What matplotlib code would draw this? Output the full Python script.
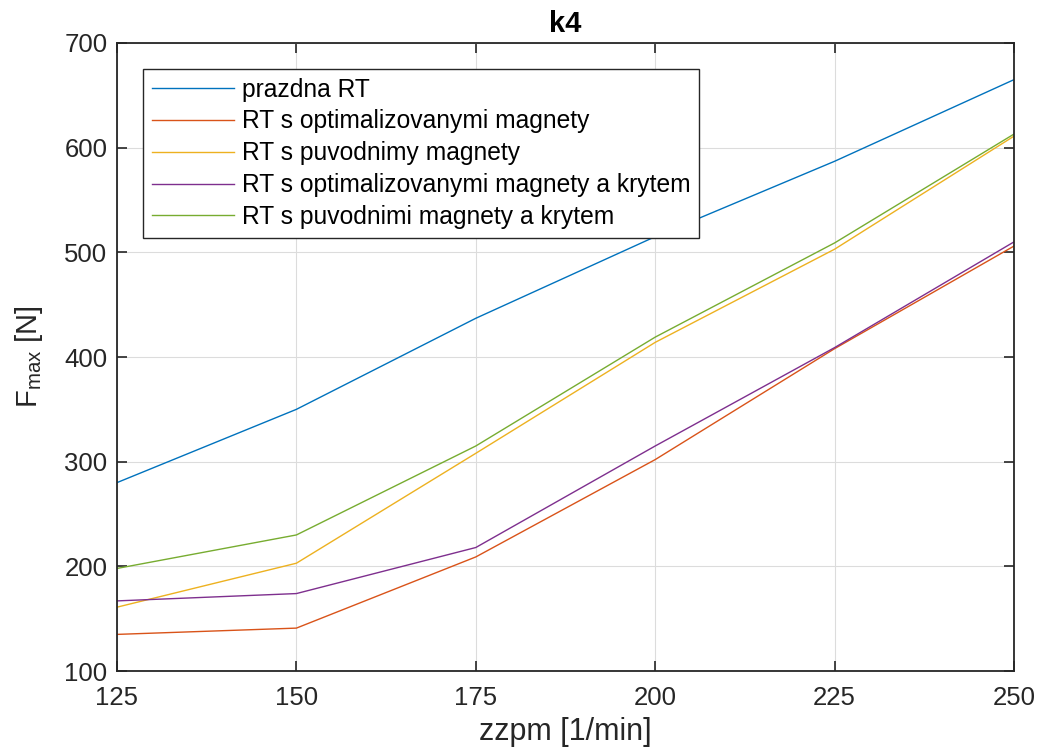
import numpy as np
import matplotlib
matplotlib.use("Agg")
import matplotlib.pyplot as plt

plt.rcParams["font.family"] = ["Liberation Sans", "DejaVu Sans"]
plt.rcParams["mathtext.fontset"] = "custom"
plt.rcParams["mathtext.rm"] = "Liberation Sans"
plt.rcParams["mathtext.it"] = "Liberation Sans"

zzpm = [125, 150, 175, 200, 225, 250]
prazdna = [280, 350, 437, 515, 587, 665]
opt_mag = [135, 141, 209, 302, 408, 506]
puv_mag = [161, 203, 308, 414, 503, 611]
opt_kryt = [167, 174, 218, 315, 409, 510]
puv_kryt = [198, 230, 315, 419, 509, 613]

labels = [
    "prazdna RT",
    "RT s optimalizovanymi magnety",
    "RT s puvodnimy magnety",
    "RT s optimalizovanymi magnety a krytem",
    "RT s puvodnimi magnety a krytem",
]
colors = ["#0072BD", "#D95319", "#EDB120", "#7E2F8E", "#77AC30"]

fig = plt.figure(figsize=(10.38, 7.49), dpi=100)
ax = fig.add_axes([0.1127, 0.1041, 0.8642, 0.8385])

for ys, lab, col in zip([prazdna, opt_mag, puv_mag, opt_kryt, puv_kryt], labels, colors):
    ax.plot(zzpm, ys, color=col, lw=1.0, label=lab)

ax.set_xlim(125, 250)
ax.set_ylim(100, 700)
ax.set_xticks(zzpm)
ax.set_yticks(np.arange(100, 701, 100))
ax.grid(True, color="#dcdcdc", lw=0.8)
ax.set_axisbelow(True)
ax.tick_params(direction="in", length=7, width=1.2, labelsize=18.5, colors="#262626",
               top=True, right=True, pad=7)
ax.tick_params(axis="x", pad=11)
for sp in ax.spines.values():
    sp.set_linewidth(1.3)
    sp.set_color("#262626")

ax.set_xlabel("zzpm [1/min]", fontsize=22, color="#262626", labelpad=5)
ax.set_ylabel("F$_{\\mathrm{max}}$ [N]", fontsize=21, color="#262626", labelpad=14)
ax.set_title("k4", fontsize=21, fontweight="bold", color="#000000", pad=8)

leg = ax.legend(loc="upper left", bbox_to_anchor=(0.029, 0.9586), borderaxespad=0,
                fontsize=17.7, handlelength=3.35, handletextpad=0.33, labelspacing=0.32,
                fancybox=False, framealpha=1, edgecolor="#262626", borderpad=0.35)
leg.get_frame().set_linewidth(1.0)

fig.savefig("out.png", dpi=100)
